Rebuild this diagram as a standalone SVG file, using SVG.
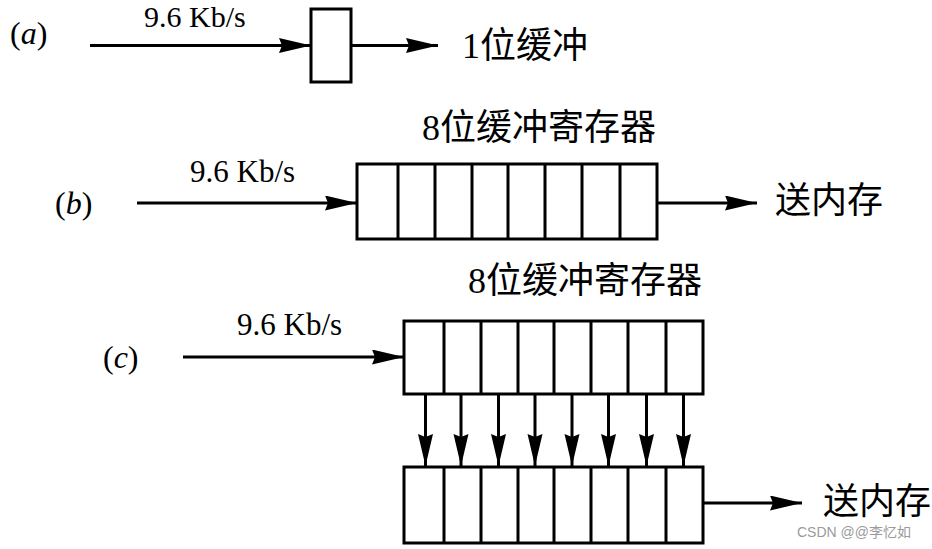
<svg xmlns="http://www.w3.org/2000/svg" width="932" height="549" viewBox="0 0 932 549">
<style>
.ln{stroke:#000;stroke-width:3;fill:none}
.bx{stroke:#000;stroke-width:3;fill:#fff}
.t{font-family:"Liberation Serif","Noto Sans CJK SC",serif;fill:#000}
.cn{font-family:"Liberation Serif","Noto Sans CJK SC",serif;font-size:36px;fill:#000}
.it{font-family:"Liberation Serif",serif;font-size:32px;fill:#000}
.wm{font-family:"Liberation Sans","Noto Sans CJK SC",sans-serif;font-size:14px;fill:#9a9a9a}
</style>
<defs>
<marker id="ah" markerUnits="userSpaceOnUse" markerWidth="36" markerHeight="18" refX="32" refY="7.5" orient="auto">
<path d="M0,0 L32,7.5 L0,15 L3,7.5 Z" fill="#000"/>
</marker>
</defs>
<g id="labels">
<text class="it" x="10" y="44">(<tspan font-style="italic">a</tspan>)</text>
<text class="it" x="55" y="214">(<tspan font-style="italic">b</tspan>)</text>
<text class="it" x="103" y="368">(<tspan font-style="italic">c</tspan>)</text>
<text class="t" font-size="30" x="144" y="27">9.6 Kb/s</text>
<text class="t" font-size="31" x="190" y="182">9.6 Kb/s</text>
<text class="t" font-size="31" x="237" y="335">9.6 Kb/s</text>
</g>
<g id="buf1">
<rect class="bx" x="311" y="9" width="40" height="73"/>
<text class="cn" x="462" y="58">1位缓冲</text>
</g>
<g id="regB">
<text class="cn" x="422" y="140">8位缓冲寄存器</text>
<rect class="bx" x="357" y="164" width="300" height="75"/>
<path class="ln" d="M398,164V239M435,164V239M472,164V239M508,164V239M545,164V239M582,164V239M620,164V239"/>
</g>
<g id="memB"><text class="cn" x="775" y="213">送内存</text></g>
<g id="regC1">
<text class="cn" x="468" y="293">8位缓冲寄存器</text>
<rect class="bx" x="404" y="321" width="299" height="73"/>
<path class="ln" d="M444,321V394M481,321V394M518,321V394M554,321V394M591,321V394M628,321V394M666,321V394"/>
</g>
<g id="regC2">
<rect class="bx" x="404" y="467" width="299" height="76"/>
<path class="ln" d="M444,467V543M481,467V543M518,467V543M554,467V543M591,467V543M628,467V543M666,467V543"/>
</g>
<g id="memC"><text class="cn" x="823" y="514">送内存</text></g>
<g id="connectors">
<line class="ln" x1="90" y1="45.5" x2="311" y2="45.5" marker-end="url(#ah)"/>
<line class="ln" x1="351" y1="45.5" x2="438" y2="45.5" marker-end="url(#ah)"/>
<line class="ln" x1="137" y1="203" x2="357" y2="203" marker-end="url(#ah)"/>
<line class="ln" x1="657" y1="203" x2="757" y2="203" marker-end="url(#ah)"/>
<line class="ln" x1="183" y1="357" x2="404" y2="357" marker-end="url(#ah)"/>
<line class="ln" x1="703" y1="503" x2="802" y2="503" marker-end="url(#ah)"/>
<line class="ln" x1="425.5" y1="394" x2="425.5" y2="466" marker-end="url(#ah)"/>
<line class="ln" x1="461" y1="394" x2="461" y2="466" marker-end="url(#ah)"/>
<line class="ln" x1="498.5" y1="394" x2="498.5" y2="466" marker-end="url(#ah)"/>
<line class="ln" x1="535" y1="394" x2="535" y2="466" marker-end="url(#ah)"/>
<line class="ln" x1="572" y1="394" x2="572" y2="466" marker-end="url(#ah)"/>
<line class="ln" x1="608.5" y1="394" x2="608.5" y2="466" marker-end="url(#ah)"/>
<line class="ln" x1="646.5" y1="394" x2="646.5" y2="466" marker-end="url(#ah)"/>
<line class="ln" x1="683.5" y1="394" x2="683.5" y2="466" marker-end="url(#ah)"/>
</g>
<text class="wm" x="797" y="537">CSDN @@李忆如</text>
</svg>
